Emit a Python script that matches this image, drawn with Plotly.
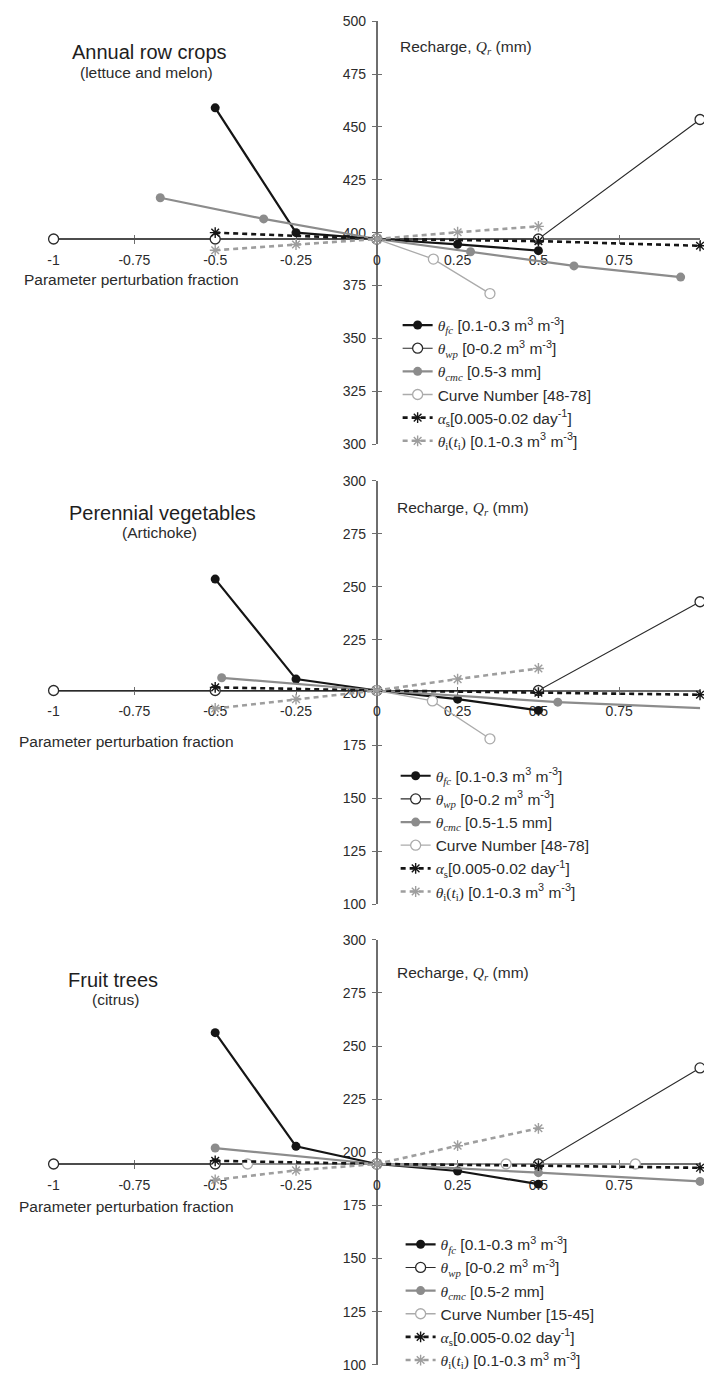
import plotly.graph_objects as go

W, H = 704, 1381

x_ticks = [-1, -0.75, -0.5, -0.25, 0, 0.25, 0.5, 0.75, 1]
x_tick_text = [f"{v:g}" for v in x_ticks]

# Annual row crops (lettuce and melon)
row_base = 397
row_y_range = [300, 500]
row_fc_x = [-0.5, -0.25, 0, 0.25, 0.5]
row_fc_y = [459, 400, 397, 394.5, 391.5]
row_wp_x = [-1, -0.5, 0, 0.5, 1]
row_wp_y = [397, 397, 397, 397, 453.5]
row_cmc_x = [-0.67, -0.35, 0, 0.29, 0.61, 0.94]
row_cmc_y = [416.5, 406.5, 397, 391, 384.3, 379]
row_cn_x = [0, 0.175, 0.35]
row_cn_y = [397, 387.5, 371.2]
row_as_x = [-0.5, 0, 0.5, 1]
row_as_y = [400, 397, 396, 393.8]
row_ti_x = [-0.5, -0.25, 0, 0.25, 0.5]
row_ti_y = [391.7, 394.4, 397, 400.2, 403]

# Perennial vegetables (artichoke)
veg_base = 201
veg_y_range = [100, 300]
veg_fc_x = [-0.5, -0.25, 0, 0.25, 0.5]
veg_fc_y = [253.6, 206.4, 201, 196.9, 191.6]
veg_wp_x = [-1, -0.5, 0, 0.5, 1]
veg_wp_y = [201, 201, 201, 201, 242.9]
veg_cmc_x = [-0.48, 0, 0.56, 1.11]
veg_cmc_y = [207, 201, 195.5, 192]
veg_cn_x = [0, 0.172, 0.35]
veg_cn_y = [201, 196.1, 178.2]
veg_as_x = [-0.5, 0, 0.5, 1]
veg_as_y = [202.5, 201, 200, 199]
veg_ti_x = [-0.5, -0.25, 0, 0.25, 0.5]
veg_ti_y = [192.5, 196.9, 201, 206.4, 211.4]

# Fruit trees (citrus)
fruit_base = 194.5
fruit_y_range = [100, 300]
fruit_fc_x = [-0.5, -0.25, 0, 0.25, 0.5]
fruit_fc_y = [256.3, 202.8, 194.5, 191.2, 185]
fruit_wp_x = [-1, -0.5, 0, 0.5, 1]
fruit_wp_y = [194.5, 194.5, 194.5, 194.5, 239.7]
fruit_cmc_x = [-0.5, 0, 0.5, 1]
fruit_cmc_y = [202, 194.5, 190.4, 186.3]
fruit_cn_x = [-0.4, 0, 0.4, 0.8]
fruit_cn_y = [194.5, 194.5, 194.5, 194.5]
fruit_as_x = [-0.5, 0, 0.5, 1]
fruit_as_y = [196, 194.5, 193.7, 192.7]
fruit_ti_x = [-0.5, -0.25, 0, 0.25, 0.5]
fruit_ti_y = [187, 191.5, 194.5, 203.1, 211.3]

titles = ["Annual row crops", "Perennial vegetables", "Fruit trees"]
subtitles = ["(lettuce and melon)", "(Artichoke)", "(citrus)"]
cmc_ranges = ["0.5-3 mm", "0.5-1.5 mm", "0.5-2 mm"]
cn_ranges = ["48-78", "48-78", "15-45"]

SERIF = "font-family:Liberation Serif"


def theta(sub):
    return f'<span style="{SERIF}"><i>θ</i><sub><i>{sub}</i></sub></span>'


def legend_names(cmc_range, cn_range):
    return [
        f"{theta('fc')} [0.1-0.3 m<sup>3</sup> m<sup>-3</sup>]",
        f"{theta('wp')} [0-0.2 m<sup>3</sup> m<sup>-3</sup>]",
        f"{theta('cmc')} [{cmc_range}]",
        f"Curve Number [{cn_range}]",
        f'<span style="{SERIF}"><i>α</i><sub>s</sub></span>[0.005-0.02 day<sup>-1</sup>]',
        f'<span style="{SERIF}"><i>θ</i><sub>i</sub>(<i>t</i><sub>i</sub>)</span> [0.1-0.3 m<sup>3</sup> m<sup>-3</sup>]',
    ]


BLACK = "#151515"
DARK = "#2a2a2a"
GREY = "#8c8c8c"
LIGHT = "#ababab"
TI_GREY = "#9e9e9e"

styles = [
    dict(line=dict(color=BLACK, width=2.2),
         marker=dict(symbol="circle", size=9, color=BLACK)),
    dict(line=dict(color=DARK, width=1.1),
         marker=dict(symbol="circle", size=10, color="white",
                     line=dict(color=DARK, width=1.3))),
    dict(line=dict(color=GREY, width=2.2),
         marker=dict(symbol="circle", size=9, color=GREY)),
    dict(line=dict(color=LIGHT, width=1.3),
         marker=dict(symbol="circle", size=10, color="white",
                     line=dict(color=LIGHT, width=1.3))),
    dict(line=dict(color=BLACK, width=2.6, dash="5px,4px"),
         marker=dict(symbol="asterisk-open", size=9,
                     line=dict(color=BLACK, width=1.4))),
    dict(line=dict(color=TI_GREY, width=2.6, dash="5px,4px"),
         marker=dict(symbol="asterisk-open", size=9,
                     line=dict(color=TI_GREY, width=1.4))),
]

panels = [
    dict(base=row_base, yr=row_y_range,
         series=[(row_fc_x, row_fc_y), (row_wp_x, row_wp_y), (row_cmc_x, row_cmc_y),
                 (row_cn_x, row_cn_y), (row_as_x, row_as_y), (row_ti_x, row_ti_y)],
         top=13.3, bottom=441.3, legend_left=395, legend_top=304,
         title_xy=(145, 45), sub_xy=(142, 65), rech_xy=(395, 40), ppf_xy=(16, 275)),
    dict(base=veg_base, yr=veg_y_range,
         series=[(veg_fc_x, veg_fc_y), (veg_wp_x, veg_wp_y), (veg_cmc_x, veg_cmc_y),
                 (veg_cn_x, veg_cn_y), (veg_as_x, veg_as_y), (veg_ti_x, veg_ti_y)],
         top=478.3, bottom=907, legend_left=393, legend_top=760,
         title_xy=(158, 511), sub_xy=(154.5, 531), rech_xy=(392, 506), ppf_xy=(11, 742)),
    dict(base=fruit_base, yr=fruit_y_range,
         series=[(fruit_fc_x, fruit_fc_y), (fruit_wp_x, fruit_wp_y), (fruit_cmc_x, fruit_cmc_y),
                 (fruit_cn_x, fruit_cn_y), (fruit_as_x, fruit_as_y), (fruit_ti_x, fruit_ti_y)],
         top=942.7, bottom=1372.7, legend_left=398, legend_top=1234,
         title_xy=(108, 983), sub_xy=(110, 1003), rech_xy=(392, 977), ppf_xy=(11, 1213)),
]

X_LEFT, X_RIGHT = 48, 700
x_dom = [X_LEFT / W, X_RIGHT / W]
x_range = [-1, 1]

AXIS_COL = "#6e6e6e"
TEXT_COL = "#2b2b2b"
FONT = "Liberation Sans, Arial, sans-serif"

fig = go.Figure()
annotations = []
layout = {}


def px(x):
    return x / W


def py(y):
    return 1 - y / H


for i, p in enumerate(panels):
    n = i + 1
    k = n + 3
    xa, ya = f"x{'' if n == 1 else n}", f"y{'' if n == 1 else n}"
    xa_o, ya_o = f"x{k}", f"y{k}"
    y_dom = [py(p["bottom"]), py(p["top"])]
    y0, y1 = p["yr"]
    # x axis crosses the y axis at the baseline recharge
    x_pos = y_dom[0] + (p["base"] - y0) / (y1 - y0) * (y_dom[1] - y_dom[0])
    # y axis crosses the x axis at zero perturbation
    y_pos = x_dom[0] + (0 - x_range[0]) / (x_range[1] - x_range[0]) * (x_dom[1] - x_dom[0])
    y_ticks = list(range(int(y0), int(y1) + 1, 25))
    leg = "legend" if n == 1 else f"legend{n}"

    names = legend_names(cmc_ranges[i], cn_ranges[i])
    for (sx, sy), st, name in zip(p["series"], styles, names):
        fig.add_trace(go.Scatter(
            x=sx, y=sy, name=name, mode="lines+markers",
            line=st["line"], marker=st["marker"], cliponaxis=False,
            xaxis=xa, yaxis=ya, legend=leg, showlegend=True,
        ))

    # companion axes carrying the inward half of the crossing ticks
    fig.add_trace(go.Scatter(
        x=[0], y=[p["base"]], mode="markers", marker=dict(opacity=0),
        xaxis=xa_o, yaxis=ya_o, showlegend=False, hoverinfo="skip",
    ))

    common_x = dict(range=x_range, tickvals=x_ticks, showgrid=False, zeroline=False,
                    anchor="free", position=x_pos, layer="below traces")
    common_y = dict(range=p["yr"], tickvals=y_ticks, showgrid=False, zeroline=False,
                    anchor="free", position=y_pos, layer="below traces")

    layout[f"xaxis{'' if n == 1 else n}"] = dict(
        domain=x_dom, **common_x, ticktext=x_tick_text,
        showline=True, linecolor=AXIS_COL, linewidth=1.6,
        ticks="outside", ticklen=4, tickwidth=1.2, tickcolor=AXIS_COL,
        ticklabelstandoff=4,
        tickfont=dict(size=14, color=TEXT_COL, family=FONT),
    )
    layout[f"yaxis{'' if n == 1 else n}"] = dict(
        domain=y_dom, **common_y, ticktext=[str(v) for v in y_ticks],
        showline=True, linecolor=AXIS_COL, linewidth=1.8,
        ticks="outside", ticklen=4, tickwidth=1.2, tickcolor=AXIS_COL,
        ticklabelstandoff=3,
        tickfont=dict(size=14, color=TEXT_COL, family=FONT),
    )
    layout[f"xaxis{k}"] = dict(overlaying=xa, **common_x, showline=False,
                               showticklabels=False, ticks="inside", ticklen=4,
                               tickwidth=1.2, tickcolor=AXIS_COL)
    layout[f"yaxis{k}"] = dict(overlaying=ya, **common_y, showline=False,
                               showticklabels=False, ticks="inside", ticklen=4,
                               tickwidth=1.2, tickcolor=AXIS_COL)

    layout[leg] = dict(
        x=px(p["legend_left"]), y=py(p["legend_top"]), xanchor="left", yanchor="top",
        bgcolor="rgba(0,0,0,0)", borderwidth=0, tracegroupgap=0,
        font=dict(size=15.5, color=TEXT_COL, family=FONT),
    )

    tx, ty = p["title_xy"]
    annotations.append(dict(x=px(tx), y=py(ty), text=titles[i], showarrow=False,
                            xanchor="center", yanchor="middle",
                            font=dict(size=20, color="#1e1e1e", family=FONT)))
    sx_, sy_ = p["sub_xy"]
    annotations.append(dict(x=px(sx_), y=py(sy_), text=subtitles[i], showarrow=False,
                            xanchor="center", yanchor="middle",
                            font=dict(size=15.5, color=TEXT_COL, family=FONT)))
    rx, ry = p["rech_xy"]
    annotations.append(dict(x=px(rx), y=py(ry),
                            text=f'Recharge, <span style="{SERIF}"><i>Q</i><sub><i>r</i></sub></span> (mm)',
                            showarrow=False, xanchor="left", yanchor="middle",
                            font=dict(size=15.5, color=TEXT_COL, family=FONT)))
    qx, qy = p["ppf_xy"]
    annotations.append(dict(x=px(qx), y=py(qy), text="Parameter perturbation fraction",
                            showarrow=False, xanchor="left", yanchor="middle",
                            font=dict(size=15.5, color=TEXT_COL, family=FONT)))

for a in annotations:
    a["xref"] = "paper"
    a["yref"] = "paper"

fig.update_layout(
    width=W, height=H,
    margin=dict(l=0, r=0, t=0, b=0),
    paper_bgcolor="white", plot_bgcolor="white",
    font=dict(family=FONT, color=TEXT_COL),
    annotations=annotations,
    **layout,
)

fig.write_html("out.html")
